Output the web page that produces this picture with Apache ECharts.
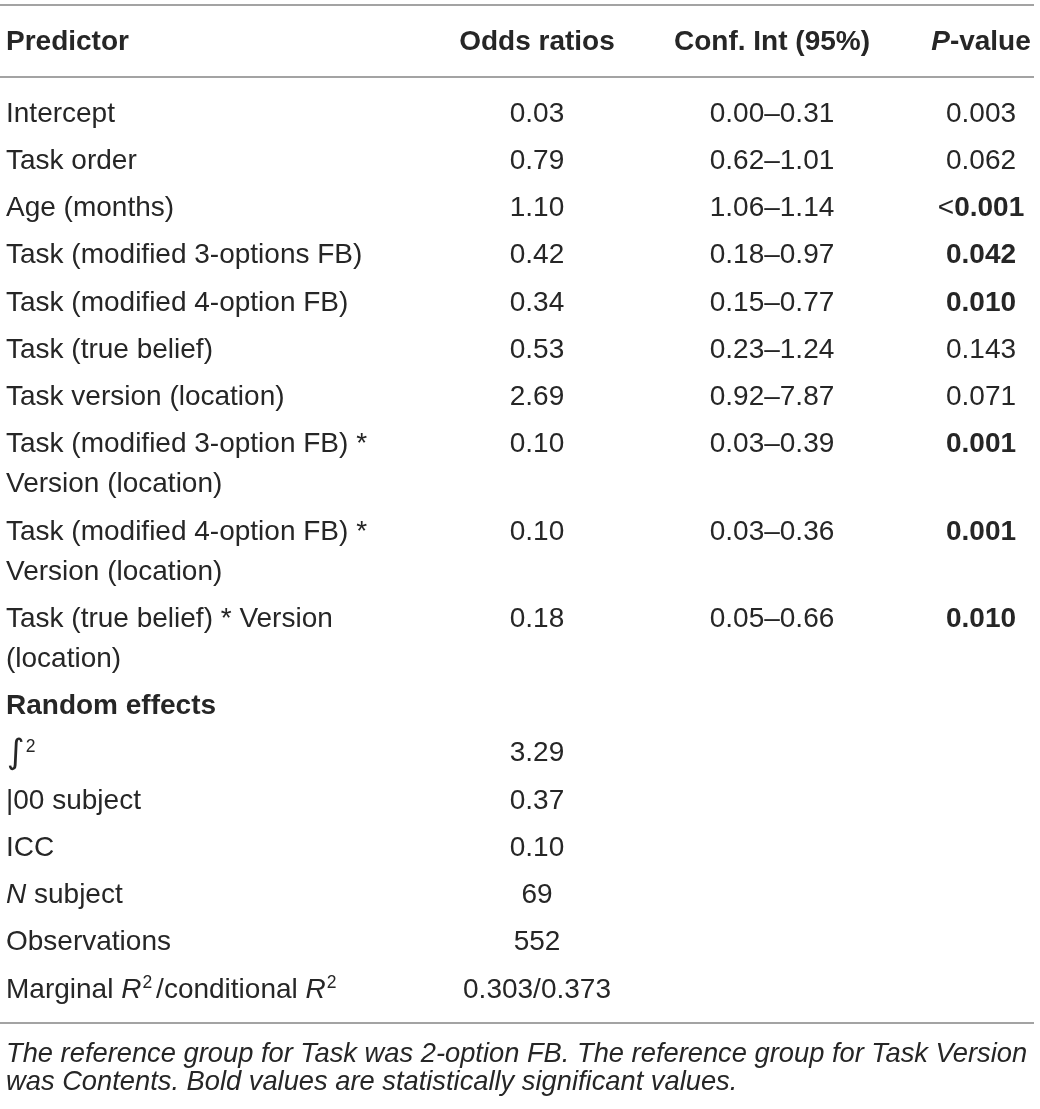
<!DOCTYPE html>
<html>
<head>
<meta charset="utf-8">
<script src="https://cdn.jsdelivr.net/npm/echarts@6/dist/echarts.min.js"></script>
<style>
  html, body { margin: 0; padding: 0; background: #ffffff; }
  #chart { width: 1040px; height: 1109px; }
</style>
</head>
<body>
<div id="chart"></div>
<script>
// ---------------- DATA ----------------
const headers = ['Predictor', 'Odds ratios', 'Conf. Int (95%)', '{bi|P}-value'];
const predictors = [
  'Intercept',
  'Task order',
  'Age (months)',
  'Task (modified 3-options FB)',
  'Task (modified 4-option FB)',
  'Task (true belief)',
  'Task version (location)',
  'Task (modified 3-option FB) *\nVersion (location)',
  'Task (modified 4-option FB) *\nVersion (location)',
  'Task (true belief) * Version\n(location)'
];
const oddsRatios = ['0.03', '0.79', '1.10', '0.42', '0.34', '0.53', '2.69', '0.10', '0.10', '0.18'];
const confLow  = ['0.00', '0.62', '1.06', '0.18', '0.15', '0.23', '0.92', '0.03', '0.03', '0.05'];
const confHigh = ['0.31', '1.01', '1.14', '0.97', '0.77', '1.24', '7.87', '0.39', '0.36', '0.66'];
const pValues = ['0.003', '0.062', '<0.001', '0.042', '0.010', '0.143', '0.071', '0.001', '0.001', '0.010'];
const significant = [false, false, true, true, true, false, false, true, true, true];
const sectionTitle = 'Random effects';
const randomLabels = ['{int|∫}{sup|2}', '|00 subject', 'ICC', '{i|N} subject', 'Observations',
  'Marginal {i|R}{sup|2}/conditional {i|R}{sup|2}'];
const randomValues = ['3.29', '0.37', '0.10', '69', '552', '0.303/0.373'];
const footnote = 'The reference group for Task was 2-option FB. The reference group for Task Version was Contents. Bold values are statistically significant values.';

// ---------------- LAYOUT ----------------
const L = {
  colX: [6, 537, 772, 981],
  colAlign: ['left', 'center', 'center', 'center'],
  headerY: 40, firstY: 112, pitch: 47.25, extraLine: 40, lineH: 40, textShift: 2,
  rules: [5, 77, 1023], ruleX: [0, 1034],
  footY: 1052, footLineH: 28, footWidth: 1036,
  family: '"Liberation Sans", Arial, Helvetica, sans-serif',
  size: 28, footSize: 27.3, supSize: 17.5,
  color: '#262626', ruleColor: '#a3a3a3'
};
const F = (w, st, s, fam) => `${st} ${w} ${s}px ${fam || L.family}`;
const rich = {
  b:   { font: F('bold', 'normal', L.size), fill: L.color },
  bi:  { font: F('bold', 'italic', L.size), fill: L.color },
  i:   { font: F('normal', 'italic', L.size), fill: L.color },
  int: { font: F('normal', 'normal', 34, '"DejaVu Sans", sans-serif'), fill: L.color, padding: [0, 0, 0, 1] },
  sup: { font: F('normal', 'normal', L.supSize), fill: L.color, verticalAlign: 'top', padding: [4, 4, 0, 1] }
};

// build cells
const cells = [];
function addCell(col, y, text, weight, opts) {
  cells.push(Object.assign({ value: [L.colX[col], y], text: text, align: L.colAlign[col], weight: weight || 'normal' }, opts || {}));
}
headers.forEach((h, c) => addCell(c, L.headerY, h, 'bold'));
let y = L.firstY;
predictors.forEach((p, i) => {
  addCell(0, y, p);
  addCell(1, y, oddsRatios[i]);
  addCell(2, y, confLow[i] + '–' + confHigh[i]);
  let pv = pValues[i];
  if (significant[i]) pv = pv.startsWith('<') ? '<{b|' + pv.slice(1) + '}' : '{b|' + pv + '}';
  addCell(3, y, pv);
  y += L.pitch + L.extraLine * (p.split('\n').length - 1);
});
addCell(0, y, sectionTitle, 'bold');
y += L.pitch;
randomLabels.forEach((lab, i) => {
  addCell(0, y, lab);
  addCell(1, y, randomValues[i]);
  y += L.pitch;
});
cells.push({ value: [L.colX[0], L.footY], text: footnote, align: 'left', weight: 'normal', foot: true });

const ruleData = L.rules.map(r => [L.ruleX[0], r, L.ruleX[1]]);

// ---------------- CHART ----------------
const chart = echarts.init(document.getElementById('chart'), null, { renderer: 'canvas' });
chart.setOption({
  animation: false,
  backgroundColor: '#ffffff',
  grid: { left: 0, right: 0, top: 0, bottom: 0 },
  xAxis: { type: 'value', min: 0, max: 1040, show: false },
  yAxis: { type: 'value', min: 0, max: 1109, inverse: true, show: false },
  series: [
    {
      type: 'custom',
      coordinateSystem: 'cartesian2d',
      data: ruleData,
      silent: true,
      renderItem: function (params, api) {
        const a = api.coord([api.value(0), api.value(1)]);
        const b = api.coord([api.value(2), api.value(1)]);
        return { type: 'line', shape: { x1: a[0], y1: a[1], x2: b[0], y2: b[1] },
          style: { stroke: L.ruleColor, lineWidth: 2 } };
      }
    },
    {
      type: 'custom',
      coordinateSystem: 'cartesian2d',
      data: cells.map(c => c.value),
      silent: true,
      renderItem: function (params, api) {
        const c = cells[params.dataIndex];
        const p = api.coord([api.value(0), api.value(1)]);
        if (c.foot) {
          return { type: 'text', x: p[0], y: p[1] - L.footLineH / 2 + L.textShift,
            style: { text: c.text, font: F('normal', 'italic', L.footSize), fill: L.color,
              align: 'left', verticalAlign: 'top', lineHeight: L.footLineH,
              width: L.footWidth, overflow: 'break' } };
        }
        return { type: 'text', x: p[0], y: p[1] - L.lineH / 2 + L.textShift,
          style: { text: c.text, font: F(c.weight, 'normal', L.size), fill: L.color,
            align: c.align, verticalAlign: 'top', lineHeight: L.lineH, rich: rich } };
      }
    }
  ]
});
</script>
</body>
</html>
